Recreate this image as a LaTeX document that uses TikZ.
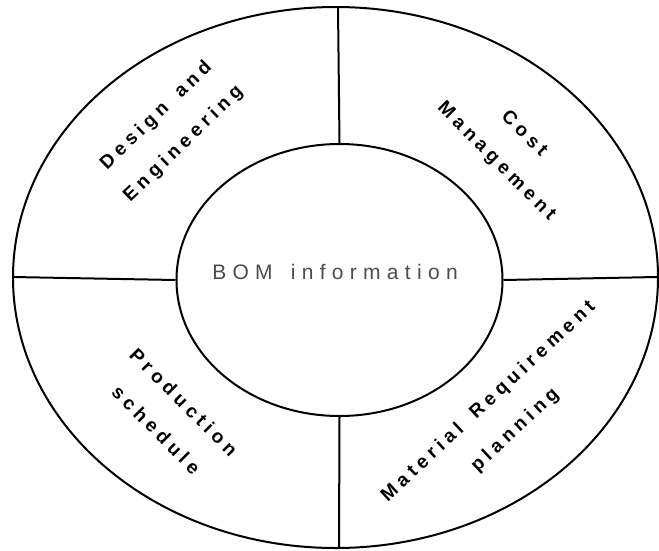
\documentclass[tikz,border=0pt]{standalone}
\usepackage{fontspec}
\usetikzlibrary{shapes.geometric}
\setmainfont{Liberation Sans}
\newfontfamily\quadfont[LetterSpace=25]{Liberation Sans}
\newfontfamily\bomfont[LetterSpace=30]{Liberation Sans}
\begin{document}
\begin{tikzpicture}[x=1pt,y=-1pt,
  ring/.style={draw=black,line width=2pt},
  divider/.style={draw=black,line width=2pt},
  quad/.style={align=center,font={\quadfont\bfseries\fontsize{19}{39}\selectfont},inner sep=0pt},
  hub/.style={font={\bomfont\fontsize{21}{24}\selectfont},text=black!70,inner sep=0pt}]
\useasboundingbox (0,0) rectangle (659,550);
\node[ring,ellipse,minimum width=645pt,minimum height=541pt,inner sep=0pt] (outer) at (335.5,277.5) {};
\node[ring,ellipse,minimum width=326pt,minimum height=272pt,inner sep=0pt] (inner) at (339.5,280) {};
\coordinate (ot) at (338,7);
\coordinate (ob) at (339,548);
\coordinate (ol) at (13,277);
\coordinate (or) at (657,277);
\draw[divider] (ot) -- (inner.north);
\draw[divider] (inner.south) -- (ob);
\draw[divider] (ol) -- (inner.west);
\draw[divider] (inner.east) -- (or);
\node[hub] (bom) at (335,272) {BOM\hspace{6pt} information};
\node[quad,rotate=44] (de) at (170,130) {Design\hspace{6pt} and\\Engineering};
\node[quad,rotate=-45] (cm) at (510,148) {Cost\\Management};
\node[quad,rotate=-45] (ps) at (170,416) {Production\\schedule};
\node[quad,rotate=43] (mr) at (502,416) {Material\hspace{6pt} Requirement\\planning};
\end{tikzpicture}
\end{document}
